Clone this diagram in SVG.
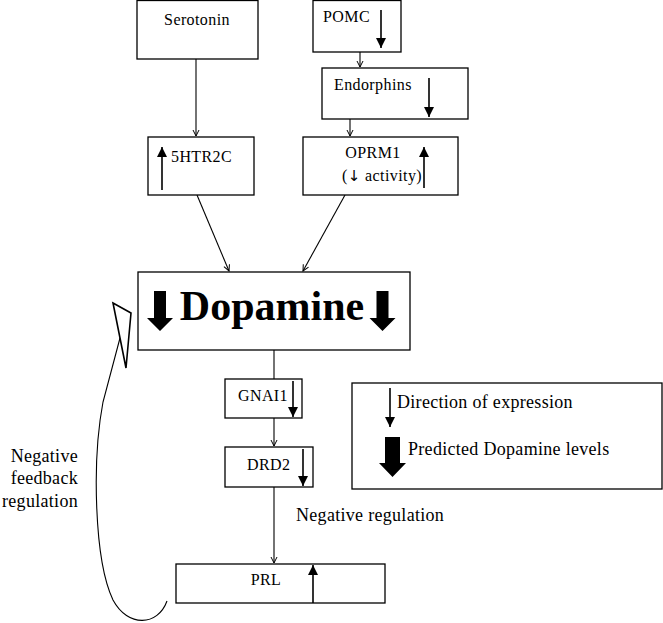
<svg xmlns="http://www.w3.org/2000/svg" width="663" height="623" viewBox="0 0 663 623">
<defs>
<style>
.box{fill:#fff;stroke:#000;stroke-width:1.3}
.t{font-family:"Liberation Serif","Times New Roman",serif;font-size:16px;fill:#000;letter-spacing:0.4px}
.lt{font-family:"Liberation Serif","Times New Roman",serif;font-size:18px;fill:#000;letter-spacing:0.3px}
.con{stroke:#000;stroke-width:1.1;fill:none}
.ex{stroke:#000;stroke-width:1.6;fill:none}
.blk{fill:#000}
</style>
<marker id="v" markerWidth="8" markerHeight="8" refX="7" refY="4" orient="auto" markerUnits="userSpaceOnUse">
<path d="M1,1 L7,4 L1,7" fill="none" stroke="#000" stroke-width="1"/>
</marker>
<marker id="tri" markerWidth="10" markerHeight="10" refX="10" refY="5" orient="auto" markerUnits="userSpaceOnUse">
<path d="M0,0 L10,5 L0,10 Z" fill="#000"/>
</marker>
</defs>
<rect width="663" height="623" fill="#fff"/>

<g id="connectors">
<line class="con" x1="196" y1="59" x2="196" y2="136" marker-end="url(#v)"/>
<line class="con" x1="360" y1="52" x2="360" y2="67" marker-end="url(#v)"/>
<line class="con" x1="350" y1="119" x2="350" y2="136" marker-end="url(#v)"/>
<line class="con" x1="197" y1="195" x2="229" y2="271" marker-end="url(#v)"/>
<line class="con" x1="345" y1="195" x2="303" y2="271" marker-end="url(#v)"/>
<line class="con" x1="274" y1="350" x2="274" y2="379"/>
<line class="con" x1="274" y1="418" x2="274" y2="446" marker-end="url(#v)"/>
<line class="con" x1="274" y1="487" x2="274" y2="563" marker-end="url(#v)"/>
<path class="con" stroke-width="1.6" d="M167,601 C158,626 128,628 113,600 C94,560 92,460 103,402 L120,338"/>
<polygon points="113,303 131,313 126,368" fill="#fff" stroke="#000" stroke-width="1.6"/>
</g>

<g id="serotonin">
<rect class="box" x="137" y="0.5" width="121" height="58.5"/>
<text class="t" x="197" y="25" text-anchor="middle">Serotonin</text>
</g>

<g id="pomc">
<rect class="box" x="313" y="0.5" width="88" height="51.5"/>
<text class="t" x="323" y="22">POMC</text>
<line class="ex" x1="381" y1="10" x2="381" y2="48" marker-end="url(#tri)"/>
</g>

<g id="endorphins">
<rect class="box" x="322" y="68" width="146" height="51"/>
<text class="t" x="334" y="90">Endorphins</text>
<line class="ex" x1="429" y1="78" x2="429" y2="117" marker-end="url(#tri)"/>
</g>

<g id="htr2c">
<rect class="box" x="148" y="137" width="106" height="58"/>
<text class="t" x="171" y="162">5HTR2C</text>
<line class="ex" x1="162" y1="190" x2="162" y2="147" marker-end="url(#tri)"/>
</g>

<g id="oprm1">
<rect class="box" x="303" y="137" width="155" height="58"/>
<text class="t" x="373" y="158" text-anchor="middle">OPRM1</text>
<text class="t" x="342" y="181">(<tspan font-family="DejaVu Sans" font-size="15">↓</tspan> activity)</text>
<line class="ex" x1="424" y1="188" x2="424" y2="147" marker-end="url(#tri)"/>
</g>

<g id="dopamine">
<rect class="box" x="138" y="272" width="272" height="78"/>
<text x="272" y="320" text-anchor="middle" font-family="Liberation Serif, Times New Roman, serif" font-size="42" font-weight="bold">Dopamine</text>
<path class="blk" d="M154,291 H166 V318 H173 L160,331 L147,318 H154 Z"/>
<path class="blk" d="M376.5,291 H388.5 V318 H395.5 L382.5,331 L369.5,318 H376.5 Z"/>
</g>

<g id="gnai1">
<rect class="box" x="225" y="379" width="77" height="39"/>
<text class="t" x="238" y="401">GNAI1</text>
<line class="ex" x1="293" y1="381" x2="293" y2="417" marker-end="url(#tri)"/>
</g>

<g id="drd2">
<rect class="box" x="225" y="447" width="88" height="40"/>
<text class="t" x="247" y="470">DRD2</text>
<line class="ex" x1="303" y1="449" x2="303" y2="486" marker-end="url(#tri)"/>
</g>

<g id="prl">
<rect class="box" x="176" y="564" width="209" height="39"/>
<text class="t" x="266" y="585" text-anchor="middle">PRL</text>
<line class="ex" x1="313" y1="603" x2="313" y2="565" marker-end="url(#tri)"/>
</g>

<g id="labels">
<text class="lt" x="296" y="521">Negative regulation</text>
<text class="lt" x="78" y="462" text-anchor="end">Negative</text>
<text class="lt" x="78" y="484" text-anchor="end">feedback</text>
<text class="lt" x="78" y="507" text-anchor="end">regulation</text>
</g>

<g id="legend">
<rect class="box" x="352" y="383" width="310" height="106"/>
<line class="ex" x1="390" y1="388" x2="390" y2="427" marker-end="url(#tri)"/>
<text class="lt" x="397" y="408">Direction of expression</text>
<path class="blk" d="M385,437 H400 V463 H406 L392.5,477 L379,463 H385 Z"/>
<text class="lt" x="408" y="455">Predicted Dopamine levels</text>
</g>
</svg>
